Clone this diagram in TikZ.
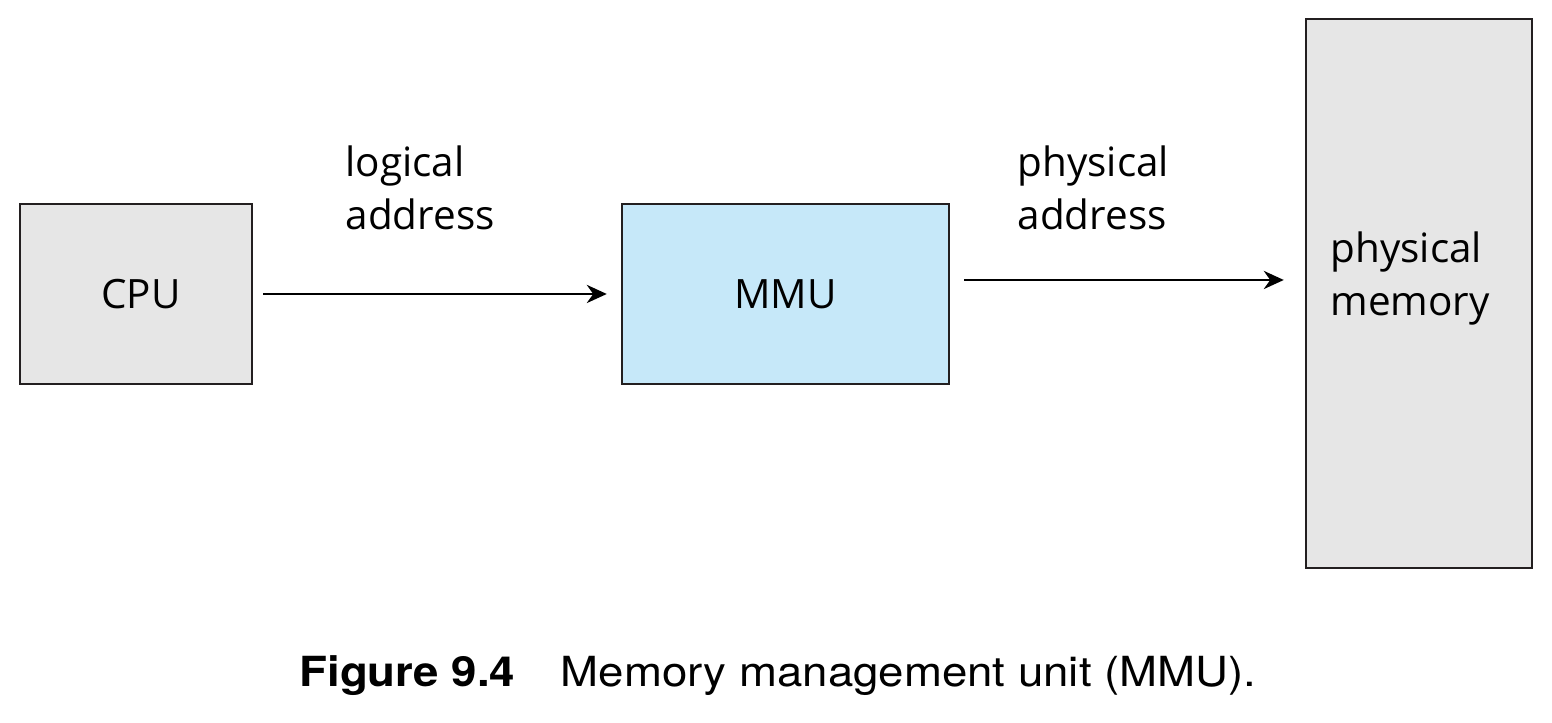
\documentclass[tikz,border=0pt]{standalone}
\usepackage{fontspec}
\setmainfont{Open Sans}
\newfontfamily\capfont{TeX Gyre Heros}
\usetikzlibrary{arrows.meta,positioning}
\tikzset{>={Stealth[length=5.7pt,width=5.2pt]}}
\definecolor{boxgray}{HTML}{E6E6E6}
\definecolor{mmublue}{HTML}{C6E8F9}
\definecolor{edge}{HTML}{231F20}
\tikzset{
  unit/.style={draw=edge,line width=0.7pt,inner sep=0pt,
    font=\fontsize{11.5}{15}\selectfont},
  lbl/.style={align=left,inner sep=0pt,font=\fontsize{11.5}{15}\selectfont},
  addr/.style={->,line width=0.6pt}
}

\begin{document}
\begin{tikzpicture}

\useasboundingbox (0,0) rectangle (15.52,-7.23);

% Units
\node[unit,fill=boxgray,minimum width=2.32cm,minimum height=1.80cm]
  (cpu) at (1.36,-2.94) {\hspace*{0.1cm}CPU};
\node[unit,fill=mmublue,minimum width=3.27cm,minimum height=1.80cm]
  (mmu) at (7.855,-2.94) {MMU};
\node[unit,fill=boxgray,minimum width=2.26cm,minimum height=5.49cm]
  (mem) at (14.19,-2.935) {};

% Labels
\node[lbl,anchor=north west] (logaddr) at (3.45,-1.45) {logical\\address};
\node[lbl,anchor=north west] (phyaddr) at (10.17,-1.45) {physical\\address};
\node[lbl,anchor=north west] (memtext) at (13.30,-2.31) {physical\\memory};

% Connectors
\draw[addr,shorten <=0.1cm,shorten >=0.14cm] (cpu) -- (mmu);
\coordinate (out) at ([yshift=0.14cm]mmu.east);
\draw[addr,shorten <=0.14cm,shorten >=0.21cm] (out) -- (out -| mem.west);

% Caption
\node[font=\capfont\fontsize{11.8}{13}\selectfont,xscale=1.1,anchor=base]
  (cap) at (7.78,-6.87) {\textbf{Figure 9.4}\quad Memory management unit (MMU).};

\end{tikzpicture}
\end{document}
